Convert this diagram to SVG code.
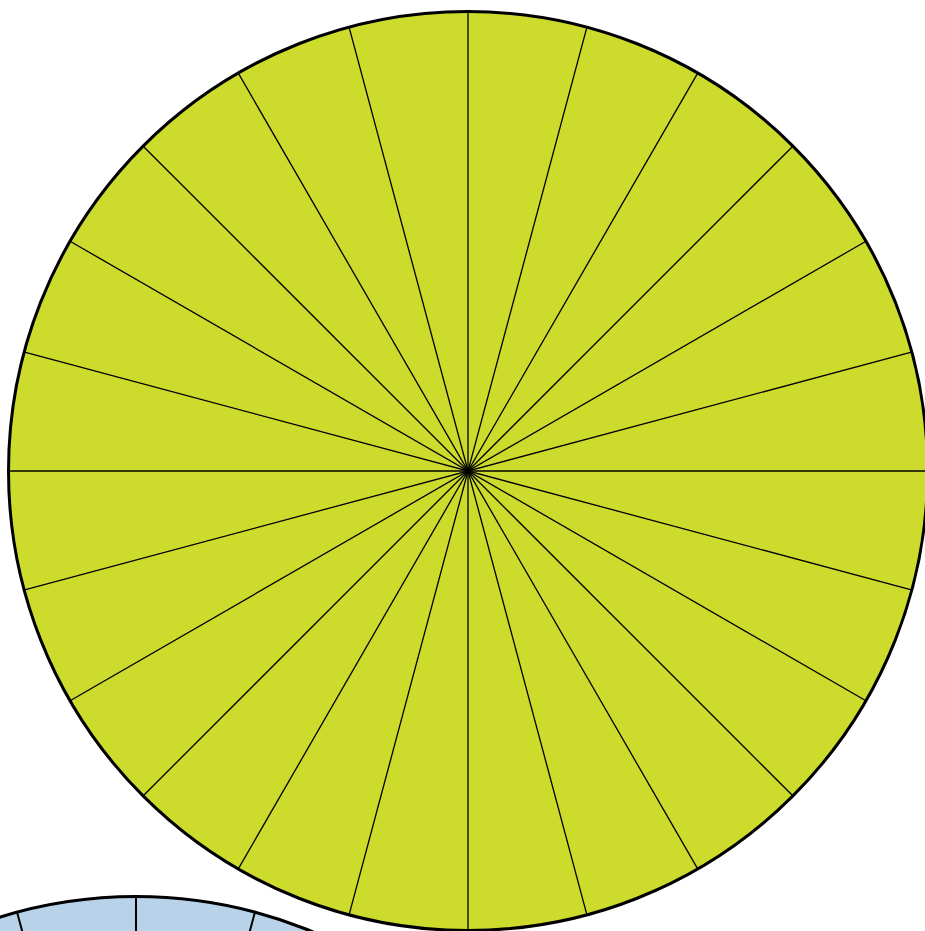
<svg xmlns="http://www.w3.org/2000/svg" width="925" height="931" viewBox="0 0 925 931">
<style>
.rim{stroke:#000;stroke-width:3}
.spk{stroke:#000;fill:none}
</style>
<defs>
<g id="spokes">
<line x1="0" y1="-460" x2="0" y2="460"/>
<line x1="0" y1="-460" x2="0" y2="460" transform="rotate(15)"/>
<line x1="0" y1="-460" x2="0" y2="460" transform="rotate(30)"/>
<line x1="0" y1="-460" x2="0" y2="460" transform="rotate(45)"/>
<line x1="0" y1="-460" x2="0" y2="460" transform="rotate(60)"/>
<line x1="0" y1="-460" x2="0" y2="460" transform="rotate(75)"/>
<line x1="0" y1="-460" x2="0" y2="460" transform="rotate(90)"/>
<line x1="0" y1="-460" x2="0" y2="460" transform="rotate(105)"/>
<line x1="0" y1="-460" x2="0" y2="460" transform="rotate(120)"/>
<line x1="0" y1="-460" x2="0" y2="460" transform="rotate(135)"/>
<line x1="0" y1="-460" x2="0" y2="460" transform="rotate(150)"/>
<line x1="0" y1="-460" x2="0" y2="460" transform="rotate(165)"/>
</g>
</defs>
<rect width="925" height="931" fill="#fff"/>
<g id="blue-wheel" transform="translate(136,1356)">
<circle r="459.5" fill="#b8d2ea"/>
<use href="#spokes" class="spk" stroke-width="2"/>
<circle r="459.5" fill="none" class="rim"/>
</g>
<g id="green-wheel" transform="translate(468,471)">
<circle r="459.5" fill="#cddb2c"/>
<use href="#spokes" class="spk" stroke-width="1.3"/>
<circle r="459.5" fill="none" class="rim"/>
</g>
</svg>
